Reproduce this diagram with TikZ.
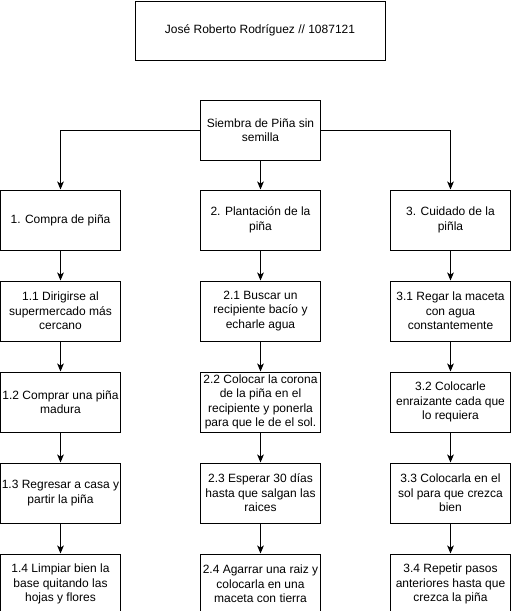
\documentclass[tikz,border=0pt]{standalone}
\usepackage{fontspec}
\setmainfont{Liberation Sans}
\usetikzlibrary{arrows.meta, positioning}

\begin{document}
\begin{tikzpicture}[
    x=0.75pt, y=-0.75pt,
    box/.style={rectangle, draw, line width=0.75pt, minimum width=90pt, minimum height=45pt, align=center, inner sep=1pt, font=\fontsize{9pt}{10.9pt}\selectfont},
    arr/.style={-{Stealth[length=6pt, width=5pt, inset=1.6pt]}, line width=0.75pt}
]
\useasboundingbox (0,0) rectangle (511,611);

\node[box, minimum width=187.5pt, minimum height=44.25pt] (author) at (260,30.5) {José Roberto Rodríguez // 1087121};
\node[box] (root) at (260.5,130) {Siembra de Piña sin\\semilla};

% compra
\node[box] (c1) at (60.5,220) {1. Compra de piña};
\node[box, below=22.5pt of c1] (c11) {1.1 Dirigirse al\\supermercado más\\cercano};
\node[box, below=22.5pt of c11] (c12) {1.2 Comprar una piña\\madura};
\node[box, below=22.5pt of c12] (c13) {1.3 Regresar a casa y\\partir la piña};
\node[box, below=22.5pt of c13] (c14) {1.4 Limpiar bien la\\base quitando las\\hojas y flores};

% plantacion
\node[box] (c2) at (260.5,220) {2. Plantación de la\\piña};
\node[box, below=22.5pt of c2] (c21) {2.1 Buscar un\\recipiente bacío y\\echarle agua};
\node[box, below=22.5pt of c21] (c22) {2.2 Colocar la corona\\de la piña en el\\recipiente y ponerla\\para que le de el sol.};
\node[box, below=22.5pt of c22] (c23) {2.3 Esperar 30 días\\hasta que salgan las\\raices};
\node[box, below=22.5pt of c23] (c24) {2.4 Agarrar una raiz y\\colocarla en una\\maceta con tierra};

% cuidado
\node[box] (c3) at (450.5,220) {3. Cuidado de la\\piñla};
\node[box, below=22.5pt of c3] (c31) {3.1 Regar la maceta\\con agua\\constantemente};
\node[box, below=22.5pt of c31] (c32) {3.2 Colocarle\\enraizante cada que\\lo requiera};
\node[box, below=22.5pt of c32] (c33) {3.3 Colocarla en el\\sol para que crezca\\bien};
\node[box, below=22.5pt of c33] (c34) {3.4 Repetir pasos\\anteriores hasta que\\crezca la piña};

\draw[arr] (root.west) -| (c1.north);
\draw[arr] (root) -- (c2);
\draw[arr] (root.east) -| (c3.north);

\draw[arr] (c1) -- (c11);
\draw[arr] (c11) -- (c12);
\draw[arr] (c12) -- (c13);
\draw[arr] (c13) -- (c14);

\draw[arr] (c2) -- (c21);
\draw[arr] (c21) -- (c22);
\draw[arr] (c22) -- (c23);
\draw[arr] (c23) -- (c24);

\draw[arr] (c3) -- (c31);
\draw[arr] (c31) -- (c32);
\draw[arr] (c32) -- (c33);
\draw[arr] (c33) -- (c34);
\end{tikzpicture}
\end{document}
